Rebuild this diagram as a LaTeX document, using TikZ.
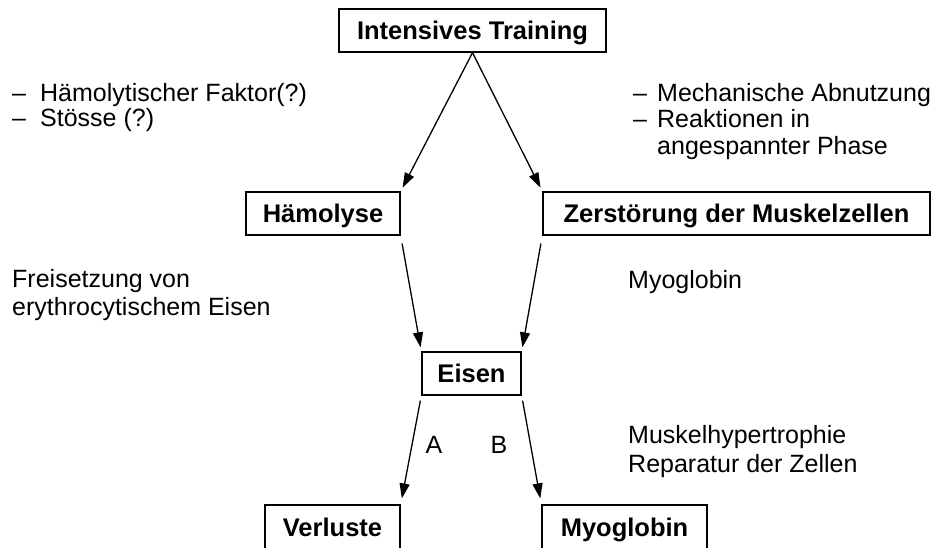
\documentclass[tikz,border=0pt]{standalone}
\usepackage{fontspec}
\setmainfont{Liberation Sans}
\usetikzlibrary{arrows.meta}
\begin{document}
\begin{tikzpicture}[x=1pt,y=-1pt,
  box/.style={draw, line width=1.4pt, inner sep=0pt, minimum height=43pt,
    text height=18pt, text depth=0pt, font=\fontsize{25.5}{28}\selectfont\bfseries},
  lbl/.style={anchor=base west, inner sep=0pt, font=\fontsize{25}{28}\selectfont},
  ab/.style={anchor=base, inner sep=0pt, font=\fontsize{25}{28}\selectfont},
  arr/.style={line width=1.3pt, -{Triangle[length=15pt,width=10pt]}}]
\useasboundingbox (0,0) rectangle (949,548);
\clip (0,0) rectangle (949,548);

\node[box, minimum width=267pt] (T) at (472.5,30.5) {Intensives Training};
\node[box, minimum width=154pt] (H) at (323,213.5) {Hämolyse};
\node[box, minimum width=387pt] (Z) at (736.5,213.5) {Zerstörung der Muskelzellen};
\node[box, minimum width=99pt] (E) at (471.5,373.5) {Eisen};
\node[box, minimum width=135pt, minimum height=44pt] (V) at (332.5,527) {Verluste};
\node[box, minimum width=165pt, minimum height=44pt] (M) at (624.5,527) {Myoglobin};

\draw[arr, shorten >=4pt] (T.south) -- (H.north east);
\draw[arr, shorten >=4pt] (T.south) -- (Z.north west);
\draw[arr, shorten <=8pt, shorten >=4pt] (H.south east) -- (E.north west);
\draw[arr, shorten <=8pt, shorten >=4pt] (Z.south west) -- (E.north east);
\draw[arr, shorten <=5pt, shorten >=6pt] (E.south west) -- (V.north east);
\draw[arr, shorten <=5pt, shorten >=6pt] (E.south east) -- (M.north west);

\node[lbl] (l1) at (12,102) {\makebox[28pt][l]{–}Hämolytischer Faktor(?)};
\node[lbl] (l2) at (12,127) {\makebox[28pt][l]{–}Stösse (?)};

\node[lbl] (r1) at (633,102) {\makebox[24pt][l]{–}Mechanische Abnutzung};
\node[lbl] (r2) at (633,128) {\makebox[24pt][l]{–}Reaktionen in};
\node[lbl] (r3) at (657,155) {angespannter Phase};

\node[lbl] (f1) at (12,287) {Freisetzung von};
\node[lbl] (f2) at (12,315) {erythrocytischem Eisen};

\node[lbl] (my) at (628,288) {Myoglobin};

\node[lbl] (m1) at (628,443) {Muskelhypertrophie};
\node[lbl] (m2) at (628,472) {Reparatur der Zellen};

\node[ab] (A) at (434,453) {A};
\node[ab] (B) at (499,453) {B};
\end{tikzpicture}
\end{document}
